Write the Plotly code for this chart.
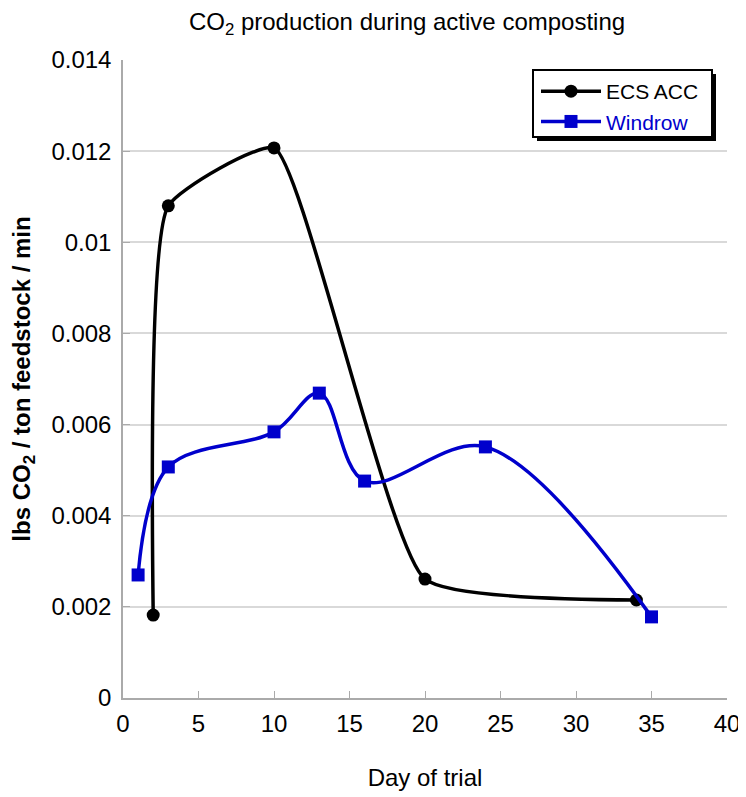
import plotly.graph_objects as go

ecs_days = [2, 3, 10, 20, 34]
ecs_vals = [0.00182, 0.0108, 0.01207, 0.00261, 0.00215]
win_days = [1, 3, 10, 13, 16, 24, 35]
win_vals = [0.0027, 0.00507, 0.00584, 0.00669, 0.00476, 0.00551, 0.00178]
y_ticks = [0, 0.002, 0.004, 0.006, 0.008, 0.01, 0.012, 0.014]
y_labels = ["0", "0.002", "0.004", "0.006", "0.008", "0.01", "0.012", "0.014"]
x_ticks = [0, 5, 10, 15, 20, 25, 30, 35, 40]

FONT = "Liberation Sans, Arial, sans-serif"
OFF = 8  # default page body margin
W, H = 746 - OFF, 797 - OFF
# plot area in screen pixels
L, R, T, B = 123, 727, 60, 698
PW, PH = R - L, B - T

def px(x):
    return (x - L) / PW

def py(y):
    return (B - y) / PH

fig = go.Figure()
fig.add_trace(go.Scatter(x=ecs_days, y=ecs_vals, name="ECS ACC", mode="lines+markers",
                         line=dict(color="black", width=3.5, shape="spline", smoothing=0.45),
                         marker=dict(symbol="circle", size=13, color="black")))
fig.add_trace(go.Scatter(x=win_days, y=win_vals,
                         name="<span style='color:#0000CC'>Windrow</span>",
                         mode="lines+markers",
                         line=dict(color="#0000CC", width=3.5, shape="spline", smoothing=1.0),
                         marker=dict(symbol="square", size=13, color="#0000CC")))

# legend box with shadow
fig.add_shape(type="rect", xref="paper", yref="paper",
              x0=px(537), x1=px(716), y0=py(141), y1=py(74),
              fillcolor="black", line=dict(width=0), layer="above")
fig.add_shape(type="rect", xref="paper", yref="paper",
              x0=px(533), x1=px(712), y0=py(137), y1=py(70),
              fillcolor="white", line=dict(color="black", width=2), layer="above")

fig.update_layout(
    width=W, height=H,
    margin=dict(l=L - OFF, r=746 - R, t=T - OFF, b=797 - B),
    paper_bgcolor="white", plot_bgcolor="white",
    font=dict(family=FONT, size=24, color="black"),
    title=dict(text="CO<sub>2</sub> production during active composting",
               x=(407 - OFF) / W, xanchor="center", y=1 - (22 - OFF) / H, yanchor="middle",
               font=dict(size=24, family=FONT, color="black")),
    showlegend=True,
    legend=dict(x=px(536), y=py(71), xanchor="left", yanchor="top",
                bgcolor="rgba(0,0,0,0)", borderwidth=0, itemwidth=60,
                font=dict(size=21, family=FONT, color="black"), tracegroupgap=0),
    xaxis=dict(range=[0, 40], tickvals=x_ticks, ticks="inside", ticklen=7,
               tickcolor="#aaaaaa", showline=True, linecolor="#aaaaaa", linewidth=1.5,
               showgrid=False, zeroline=False, automargin=False, ticklabelstandoff=3,
               title=dict(text="Day of trial", font=dict(size=24, family=FONT, color="black"),
                          standoff=34),
               tickfont=dict(size=24, family=FONT, color="black")),
    yaxis=dict(range=[0, 0.014], tickvals=y_ticks, ticktext=y_labels, ticks="inside",
               ticklen=7, tickcolor="#aaaaaa", showline=True, linecolor="#aaaaaa",
               linewidth=1.5, showgrid=True, gridcolor="#d9d9d9", gridwidth=1.5,
               zeroline=False, automargin=False, ticklabelstandoff=5,
               title=dict(text="<b>lbs CO<sub>2</sub> / ton feedstock / min</b>",
                          font=dict(size=24, family=FONT, color="black"), standoff=14),
               tickfont=dict(size=24, family=FONT, color="black")),
)

fig.write_html("out.html")
